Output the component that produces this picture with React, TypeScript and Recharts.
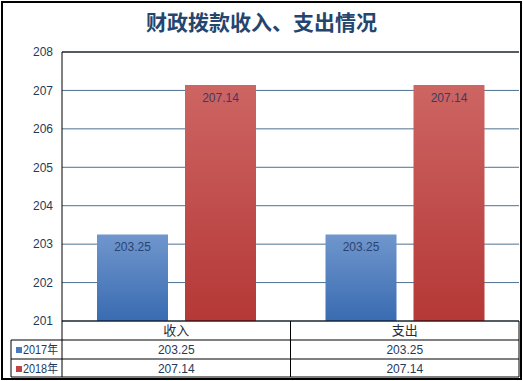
import { Bar, BarChart, CartesianGrid, LabelList, ReferenceLine, XAxis, YAxis } from "recharts";

const categories = ["收入", "支出"];
const seriesNames = ["2017年", "2018年"];
const values2017 = [203.25, 203.25];
const values2018 = [207.14, 207.14];
const yTicks = [201, 202, 203, 204, 205, 206, 207, 208];

const data = categories.map((name, i) => ({ name, v2017: values2017[i], v2018: values2018[i] }));

const W = 523;
const H = 381;
const PLOT_LEFT = 62;
const PLOT_RIGHT = 519;
const BAND = (PLOT_RIGHT - PLOT_LEFT) / categories.length;
const ROW = 19;
const NUM_FONT = "'Liberation Sans', 'Noto Sans CJK SC', sans-serif";
const CJK_FONT = "'Noto Sans CJK SC', sans-serif";
const swatches = ["#4a7bbf", "#bf4442"];

function TableTick(props: any) {
  const { x, y, payload, index } = props;
  const left = x - BAND / 2;
  const right = x + BAND / 2;
  const rows = [values2017[index], values2018[index]];
  return (
    <g>
      <line x1={left} x2={left} y1={y} y2={y + ROW * 3 - 1} stroke="#000" />
      <line x1={right} x2={right} y1={y} y2={y + ROW * 3 - 1} stroke="#000" />
      <text x={x} y={y + 14} textAnchor="middle" fontSize={13} fill="#1f2d3d" fontFamily={CJK_FONT}>
        {payload.value}
      </text>
      {rows.map((v, r) => (
        <text key={r} x={x} y={y + ROW * (r + 1) + 14} textAnchor="middle" fontSize={12} fill="#1f3a5a" fontFamily={NUM_FONT}>
          {v.toFixed(2)}
        </text>
      ))}
      {[1, 2, 3].map((r) => (
        <line key={r} x1={index === 0 ? 11 : left} x2={right} y1={y + ROW * r - (r === 3 ? 1 : 0)} y2={y + ROW * r - (r === 3 ? 1 : 0)} stroke="#000" />
      ))}
      {index === 0 && (
        <g>
          <line x1={11} x2={11} y1={y + ROW} y2={y + ROW * 3 - 1} stroke="#000" />
          {seriesNames.map((s, r) => (
            <g key={s}>
              <rect x={16} y={y + ROW * (r + 1) + 7} width={6} height={6} fill={swatches[r]} />
              <text x={23} y={y + ROW * (r + 1) + 14} fontSize={12} fill="#1f3a5a" fontFamily={NUM_FONT} textLength={35} lengthAdjust="spacingAndGlyphs">
                {s}
              </text>
            </g>
          ))}
        </g>
      )}
    </g>
  );
}

export default function App() {
  return (
    <div style={{ position: "absolute", left: 0, top: 0, width: W, height: H, background: "#fff" }}>
      <div
        style={{
          position: "absolute",
          left: 1,
          top: 1,
          width: W - 6,
          height: H - 6,
          border: "2px solid #000",
        }}
      />
      <div
        style={{
          position: "absolute",
          left: 0,
          top: 6,
          width: W,
          textAlign: "center",
          fontFamily: CJK_FONT,
          fontWeight: 700,
          fontSize: 21,
          color: "#24456e",
        }}
      >
        财政拨款收入、支出情况
      </div>
      <div style={{ position: "absolute", left: 0, top: 0 }}>
        <BarChart width={W} height={H} data={data} margin={{ top: 52, right: W - PLOT_RIGHT, bottom: 0, left: 0 }} barSize={71} barGap={17}>
          <defs>
            <linearGradient id="gBlue" x1="0" y1="0" x2="0" y2="1">
              <stop offset="0%" stopColor="#7096cd" />
              <stop offset="100%" stopColor="#396bb1" />
            </linearGradient>
            <linearGradient id="gRed" x1="0" y1="0" x2="0" y2="1">
              <stop offset="0%" stopColor="#cd6563" />
              <stop offset="100%" stopColor="#b43836" />
            </linearGradient>
          </defs>
          <CartesianGrid horizontal vertical={false} stroke="#4f7190" />
          <ReferenceLine y={208} stroke="#000" />
          <XAxis
            dataKey="name"
            height={60}
            tickLine={false}
            tickSize={0}
            tickMargin={0}
            axisLine={{ stroke: "#000" }}
            tick={<TableTick />}
            interval={0}
          />
          <YAxis
            domain={[201, 208]}
            ticks={yTicks}
            width={PLOT_LEFT}
            tickLine={false}
            tickSize={0}
            tickMargin={9}
            axisLine={{ stroke: "#000" }}
            tick={{ fill: "#1f3a5a", fontSize: 12, fontFamily: NUM_FONT }}
          />
          <YAxis yAxisId="r" orientation="right" width={0} tick={false} tickLine={false} axisLine={{ stroke: "#000" }} />
          <Bar dataKey="v2017" name={seriesNames[0]} fill="url(#gBlue)" isAnimationActive={false}>
            <LabelList dataKey="v2017" position="insideTop" offset={8} fontSize={12} fill="#2a4470" fontFamily={NUM_FONT} />
          </Bar>
          <Bar dataKey="v2018" name={seriesNames[1]} fill="url(#gRed)" isAnimationActive={false}>
            <LabelList dataKey="v2018" position="insideTop" offset={8} fontSize={12} fill="#3d3a66" fontFamily={NUM_FONT} />
          </Bar>
        </BarChart>
      </div>
    </div>
  );
}
